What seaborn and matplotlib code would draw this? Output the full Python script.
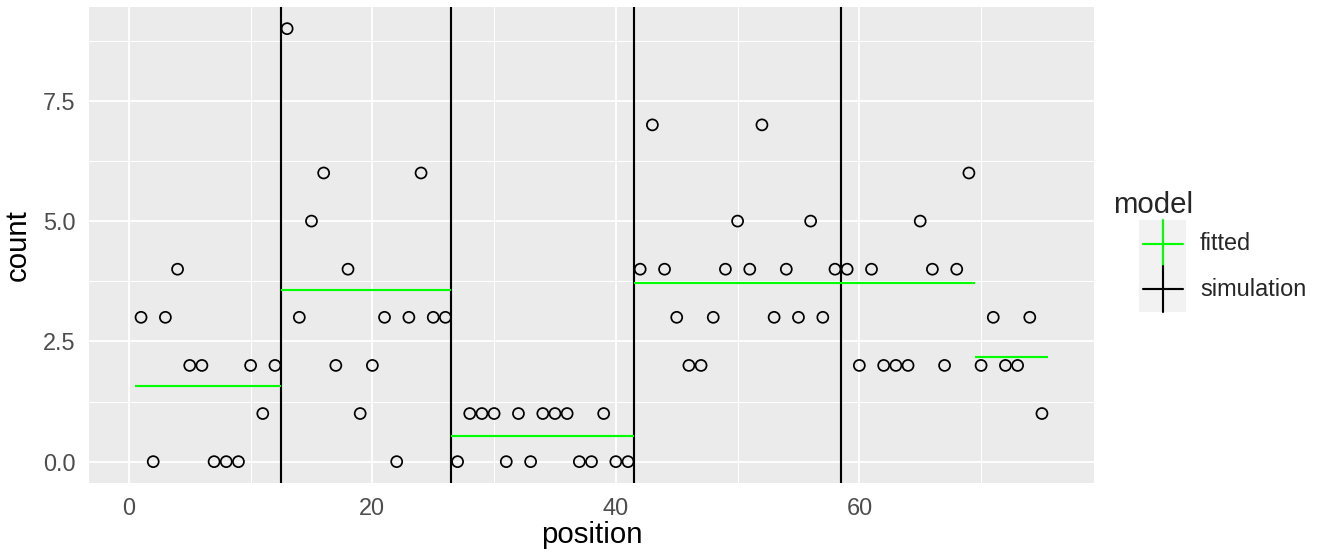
import matplotlib
matplotlib.use("Agg")
import matplotlib.pyplot as plt
import matplotlib.lines as mlines
import matplotlib.patches as mpatches
import pandas as pd
import seaborn as sns

# Observed counts per position
position = list(range(1, 76))
count = [3, 0, 3, 4, 2, 2, 0, 0, 0, 2, 1, 2,
         9, 3, 5, 6, 2, 4, 1, 2, 3, 0, 3, 6, 3, 3,
         0, 1, 1, 1, 0, 1, 0, 1, 1, 1, 0, 0, 1, 0, 0,
         4, 7, 4, 3, 2, 2, 3, 4, 5, 4, 7, 3, 4, 3, 5, 3, 4, 4, 2, 4, 2, 2, 2, 5, 4, 2, 4, 6,
         2, 3, 2, 2, 3, 1]

# Fitted segments (start, end, level)
seg_start = [0.5, 12.5, 26.5, 41.5, 69.5]
seg_end = [12.5, 26.5, 41.5, 69.5, 75.5]
seg_level = [1.58, 3.57, 0.53, 3.71, 2.17]

# Simulated change points
sim_breaks = [12.5, 26.5, 41.5, 58.5]

df = pd.DataFrame({"position": position, "count": count})

sns.set_theme(style="darkgrid")
plt.rcParams["font.family"] = ["Liberation Sans", "DejaVu Sans"]

W, H, DPI = 1320, 555, 192
LW = 0.8
fig = plt.figure(figsize=(W / DPI, H / DPI), dpi=DPI)
ax = fig.add_axes([89.3 / W, 1 - 483.3 / H, (1093.7 - 89.3) / W, (483.3 - 7) / H])
ax.set_facecolor("#EBEBEB")

for b in sim_breaks:
    ax.axvline(b, color="black", lw=LW, zorder=3)
ax.hlines(seg_level, seg_start, seg_end, color="#00FF00", lw=LW, zorder=3)

sns.scatterplot(data=df, x="position", y="count", ax=ax, marker="o", s=17,
                facecolors="none", edgecolor="black", linewidth=0.65, zorder=4)

ax.set_xlim(-3.25, 79.25)
ax.set_ylim(-0.45, 9.45)
ax.set_xticks([0, 20, 40, 60])
ax.set_xticks([10, 30, 50, 70], minor=True)
ax.set_yticks([0, 2.5, 5, 7.5])
ax.set_yticks([1.25, 3.75, 6.25, 8.75], minor=True)
ax.set_yticklabels(["0.0", "2.5", "5.0", "7.5"])
ax.grid(which="major", color="white", lw=0.7)
ax.grid(which="minor", color="white", lw=0.38)
for s in ax.spines.values():
    s.set_visible(False)
ax.tick_params(which="major", length=2.85, width=0.75, color="#333333",
               labelsize=8.8, labelcolor="#4D4D4D", pad=2.3)
ax.tick_params(which="minor", length=0)

ax.set_xlabel("position", fontsize=11, color="black")
ax.set_ylabel("count", fontsize=11, color="black")
ax.xaxis.set_label_coords(0.5, -(535 - 483.3) / (483.3 - 7), transform=ax.transAxes)
ax.xaxis.label.set_va("center")
ax.yaxis.set_label_coords(-(89.3 - 18) / (1093.7 - 89.3), 0.5)
ax.yaxis.label.set_va("center")

# Legend drawn by hand in pixel coordinates
def px(x, y):
    return x / W, 1 - y / H

fig.text(*px(1113, 205), "model", fontsize=11, va="center", ha="left")
keys = [("fitted", "#00FF00", 220.5), ("simulation", "black", 266.2)]
for label, col, top in keys:
    x0, y0 = px(1139.3, top + 46.2)
    fig.add_artist(mpatches.Rectangle((x0, y0), 46.7 / W, 46.2 / H,
                                      transform=fig.transFigure, color="#F2F2F2", lw=0))
    cx, cy = 1139.3 + 23.35, top + 23.1
    fig.add_artist(mlines.Line2D([px(1143, 0)[0], px(1182.5, 0)[0]], [px(0, cy)[1]] * 2,
                                 transform=fig.transFigure, color=col, lw=LW))
    fig.add_artist(mlines.Line2D([px(cx, 0)[0]] * 2, [px(0, top)[1], px(0, top + 46.2)[1]],
                                 transform=fig.transFigure, color=col, lw=LW))
    fig.text(*px(1200, cy), label, fontsize=8.8, va="center", ha="left")

fig.savefig("out.png", dpi=DPI)
